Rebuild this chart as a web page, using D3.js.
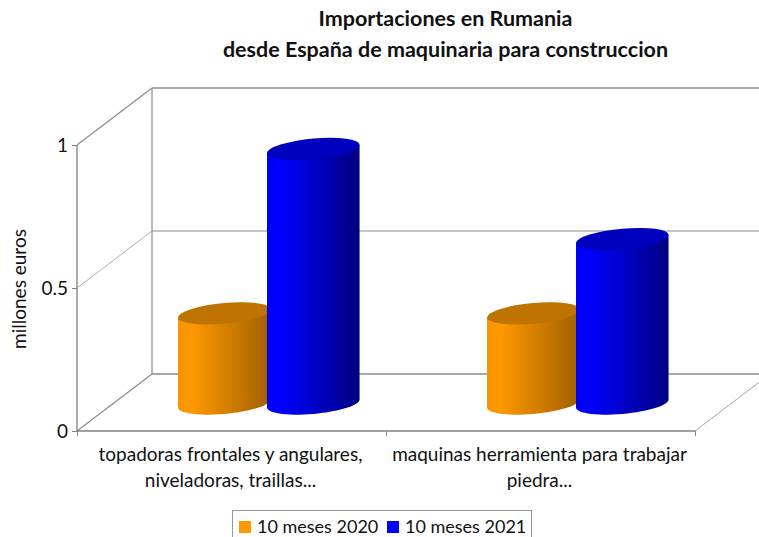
<!DOCTYPE html>
<html>
<head>
<meta charset="utf-8">
<script src="https://cdn.jsdelivr.net/npm/d3@7"></script>
<style>
  body { margin: 0; background: #fff; overflow: hidden; }
  text { font-family: Lato, "Open Sans", sans-serif; fill: #111; }
</style>
</head>
<body>
<svg width="759" height="537"></svg>
<script>
var titleLines = ["Importaciones en Rumania", "desde España de maquinaria para construccion"];
var categories = ["cat1", "cat2"];
var categoryLabels = [
  ["topadoras frontales y angulares,", "niveladoras, traillas..."],
  ["maquinas herramienta para trabajar", "piedra..."]
];
var seriesNames = ["10 meses 2020", "10 meses 2021"];
var values2020 = [0.315, 0.315];
var values2021 = [0.89, 0.575];
var yTicks = [0, 0.5, 1];
var yLabel = "millones euros";
var seriesColors = ["#ff9900", "#0000ff"];
var sideColors = ["#a06000", "#000080"];
var topColors = ["#bf7300", "#0000bf"];

var svg = d3.select("svg");

// depth of the 3d box, back wall is shifted by this much
var depth = {x: 75, y: -57};

var x0 = d3.scaleBand().domain(categories).range([77, 695]);
// range is nudged 2px left, the pair does not sit quite centered on the floor
var x1 = d3.scaleBand().domain(seriesNames).range([-2, x0.bandwidth() - 2]).paddingOuter(0.736).paddingInner(0);
var y = d3.scaleLinear().domain([0, 1]).range([431, 145]);

// gradients for the cylinder sides
var defs = svg.append("defs");
seriesNames.forEach(function(s, i) {
  var g = defs.append("linearGradient").attr("id", "side" + i);
  g.append("stop").attr("offset", "0").attr("stop-color", d3.interpolateRgb(seriesColors[i], sideColors[i])(0.08));
  g.append("stop").attr("offset", "0.14").attr("stop-color", seriesColors[i]);
  g.append("stop").attr("offset", "1").attr("stop-color", sideColors[i]);
});

// back walls and floor
var wall = svg.append("g").attr("fill", "none").attr("stroke", "#8c8c8c");
var xL = x0.range()[0], xR = x0.range()[1];
yTicks.forEach(function(t) {
  var yy = y(t);
  var thin = t !== 0 && t !== 1;
  wall.append("line")
    .attr("x1", xL).attr("y1", yy)
    .attr("x2", xL + depth.x).attr("y2", yy + depth.y)
    .attr("stroke-width", thin ? 0.7 : 1.2);
  wall.append("line")
    .attr("x1", xL + depth.x).attr("y1", yy + depth.y)
    .attr("x2", xR + depth.x).attr("y2", yy + depth.y)
    .attr("stroke-width", thin ? 1 : 1.6);
});
wall.append("line")
  .attr("x1", xL + depth.x).attr("y1", y(0) + depth.y)
  .attr("x2", xL + depth.x).attr("y2", y(1) + depth.y)
  .attr("stroke-width", 1.2);
wall.append("line")
  .attr("x1", xR).attr("y1", y(0))
  .attr("x2", xR + depth.x).attr("y2", y(0) + depth.y)
  .attr("stroke-width", 0.8);

// y axis
var yAxis = d3.axisLeft(y).tickValues(yTicks).tickFormat(d3.format("")).tickSize(5).tickPadding(4);
var yG = svg.append("g").attr("transform", "translate(" + xL + ",0)").call(yAxis);
yG.selectAll("path, line").attr("stroke", "#808080");
yG.select("path").attr("stroke-width", 1.3).attr("d", "M0," + y(0) + "V" + y(1));
yG.selectAll("text").style("font-size", "19px").attr("fill", "#111");

// x axis, ticks sit on the band edges
var xEdges = d3.scaleLinear().domain([0, categories.length]).range(x0.range());
var xAxis = d3.axisBottom(xEdges).tickValues(d3.range(categories.length + 1)).tickFormat("").tickSize(5);
var xG = svg.append("g").attr("transform", "translate(0," + y(0) + ")").call(xAxis);
xG.selectAll("path, line").attr("stroke", "#808080");
xG.select("path").attr("stroke-width", 1.3).attr("d", "M" + xL + ",0H" + xR);

categoryLabels.forEach(function(lines, i) {
  svg.append("text")
    .attr("text-anchor", "middle")
    .style("font-size", "19px")
    .selectAll("tspan").data(lines).enter().append("tspan")
    .attr("x", x0(categories[i]) + x0.bandwidth() / 2 - 1)
    .attr("y", function(d, j) { return 461 + j * 26; })
    .text(function(d) { return d; });
});

// cylinder outline helpers (sheared ellipse: right side sits higher than left)
var angles = d3.range(0, 181, 6);
var line = d3.line();
function bodyPath(cx, yTop, yBase, a, b, c) {
  var pts = angles.map(function(t) {
    var r = t * Math.PI / 180;
    return [cx + a * Math.cos(r), yBase + c * Math.cos(r) + b * Math.sin(r)];
  });
  pts.push([cx - a, yTop - c], [cx + a, yTop + c]);
  return line(pts) + "Z";
}

// cylinders are a little wider than their band, so blue overlaps orange
var barW = x1.bandwidth() * 1.04;
var rows = categories.map(function(c, i) {
  return [values2020[i], values2021[i]].map(function(v, s) {
    return {cat: c, series: s, value: v};
  });
});
var baseY = y(0) + depth.y / 2 + 1;
var bars = svg.append("g");
rows.forEach(function(row) {
  row.forEach(function(d) {
    var cx = x0(d.cat) + x1(seriesNames[d.series]) + barW / 2 + depth.x / 2;
    var a = barW / 2, b = 10.4, c = -4;
    var yBase = baseY, yTop = baseY - (y(0) - y(d.value));
    bars.append("path")
      .attr("d", bodyPath(cx, yTop, yBase, a, b, c))
      .attr("fill", "url(#side" + d.series + ")");
    bars.append("circle")
      .attr("r", 1)
      .attr("transform", "matrix(" + [a, c, 0, b, cx, yTop].join(",") + ")")
      .attr("fill", topColors[d.series]);
  });
});

// title
svg.append("text")
  .attr("text-anchor", "middle")
  .style("font-size", "21.5px")
  .style("font-weight", "bold")
  .selectAll("tspan").data(titleLines).enter().append("tspan")
  .attr("x", 445.5)
  .attr("y", function(d, i) { return 25.5 + i * 31; })
  .text(function(d) { return d; });

// y label
svg.append("text")
  .attr("transform", "translate(26,289) rotate(-90)")
  .attr("text-anchor", "middle")
  .style("font-size", "19px")
  .text(yLabel);

// legend
svg.append("rect")
  .attr("x", 232.5).attr("y", 510.5).attr("width", 299).attr("height", 40)
  .attr("fill", "#fff").attr("stroke", "#999");
var legendX = d3.scalePoint().domain(seriesNames).range([239, 387]);
seriesNames.forEach(function(s, i) {
  svg.append("rect")
    .attr("x", legendX(s)).attr("y", 521).attr("width", 12).attr("height", 12)
    .attr("fill", seriesColors[i]);
  svg.append("text")
    .attr("x", legendX(s) + 18).attr("y", 533)
    .style("font-size", "18px")
    .text(s);
});
</script>
</body>
</html>
